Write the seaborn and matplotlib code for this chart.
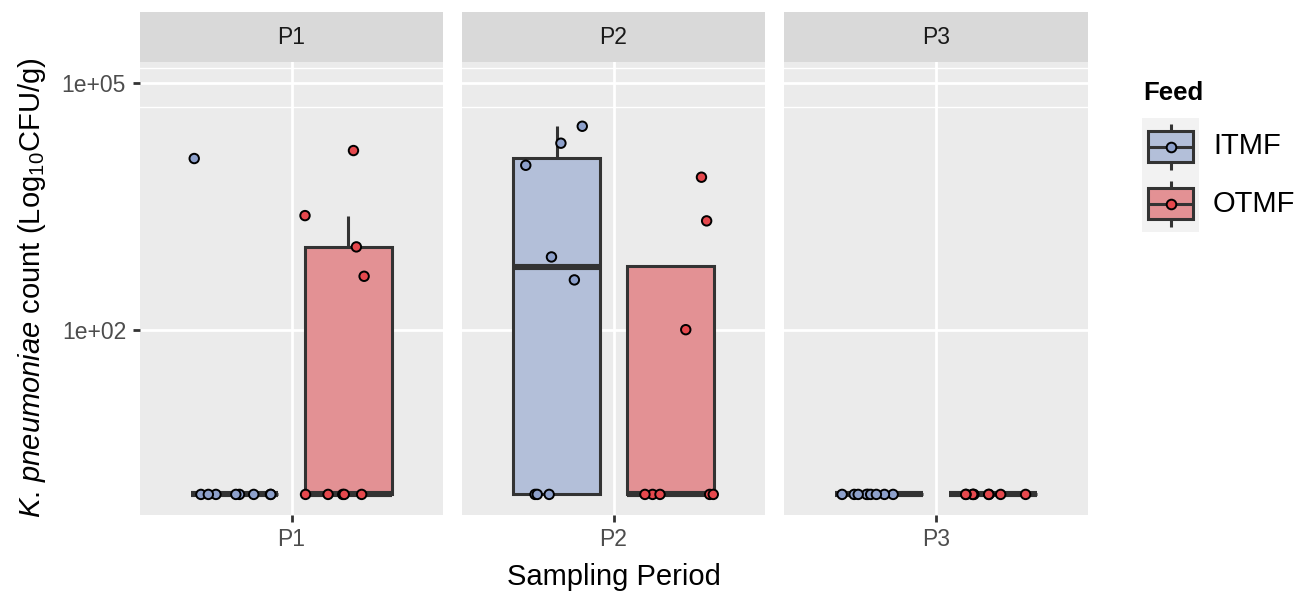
import numpy as np
import pandas as pd
import matplotlib
matplotlib.use("Agg")
import matplotlib.pyplot as plt
import seaborn as sns
from matplotlib.patches import Rectangle
from matplotlib.ticker import NullLocator

# ---------------- data (CFU/g; non-detects recorded as 1 = axis floor) ----------------
periods = ["P1", "P2", "P3"]
feeds = ["ITMF", "OTMF"]
p1_itmf = [1, 1, 1, 1, 1, 1, 1, 1, 11970]
p1_otmf = [1, 1, 1, 1, 1, 445, 1012, 2427, 14960]
p2_itmf = [1, 1, 1, 402, 764, 9910, 18370, 29500]
p2_otmf = [1, 1, 1, 1, 1, 100, 2094, 7100]
p3_itmf = [1, 1, 1, 1, 1, 1, 1, 1, 1]
p3_otmf = [1, 1, 1, 1, 1, 1, 1, 1, 1]
y_breaks = [1e2, 1e5]
y_break_labels = ["1e+02", "1e+05"]
y_minor_breaks = [50050, 149950]

groups = {("P1", "ITMF"): p1_itmf, ("P1", "OTMF"): p1_otmf,
          ("P2", "ITMF"): p2_itmf, ("P2", "OTMF"): p2_otmf,
          ("P3", "ITMF"): p3_itmf, ("P3", "OTMF"): p3_otmf}
rows = []
for (p, f), vals in groups.items():
    for v in vals:
        rows.append({"Period": p, "Feed": f, "Count": v})
df = pd.DataFrame(rows)

# ---------------- style ----------------
plt.rcParams["font.family"] = "Liberation Sans"
plt.rcParams["mathtext.fontset"] = "custom"
plt.rcParams["mathtext.rm"] = "Liberation Sans"
plt.rcParams["mathtext.it"] = "Liberation Sans:italic"

box_pal = {"ITMF": "#B3BFD9", "OTMF": "#E39194"}
dot_pal = {"ITMF": "#8DA0CB", "OTMF": "#E5484D"}
panel_bg = "#EBEBEB"
strip_bg = "#D9D9D9"
line_col = "#333333"

W, H = 1307, 594
fig = plt.figure(figsize=(W / 100, H / 100), dpi=100)
fig.patch.set_facecolor("white")

panel_x = [(140, 443), (462, 765), (784, 1088)]
top, bottom = 62, 515
np.random.seed(3)

for i, p in enumerate(periods):
    x0, x1 = panel_x[i]
    ax = fig.add_axes([x0 / W, 1 - bottom / H, (x1 - x0) / W, (bottom - top) / H])
    ax.set_facecolor(panel_bg)
    sub = df[df["Period"] == p]
    sns.boxplot(data=sub, x="Period", y="Count", hue="Feed", hue_order=feeds,
                palette=box_pal, saturation=1, width=0.8, gap=0.23,
                linecolor=line_col, linewidth=2.2, showfliers=False,
                medianprops=dict(linewidth=4.4),
                capprops=dict(linewidth=0), legend=False, ax=ax)
    sns.stripplot(data=sub, x="Period", y="Count", hue="Feed", hue_order=feeds,
                  palette=dot_pal, dodge=True, jitter=0.32, size=6.8,
                  edgecolor="black", linewidth=1.4, legend=False, zorder=3, ax=ax)
    ax.set_yscale("log")
    ax.set_ylim(10 ** -0.25, 10 ** 5.25)
    ax.set_xlim(-0.535, 0.535)
    ax.grid(False)
    for yb in y_breaks:
        ax.axhline(yb, color="white", lw=2.0, zorder=0.5)
    for yb in y_minor_breaks:
        ax.axhline(yb, color="white", lw=1.0, zorder=0.5)
    ax.axvline(0, color="white", lw=2.0, zorder=0.5)
    for s in ax.spines.values():
        s.set_visible(False)
    ax.set_xlabel("")
    ax.set_ylabel("")
    ax.set_xticks([0])
    ax.set_xticklabels([p])
    ax.yaxis.set_minor_locator(NullLocator())
    ax.tick_params(axis="x", length=5, width=2.0, color=line_col,
                   labelcolor="#4D4D4D", labelsize=16.5, pad=4)
    if i == 0:
        ax.set_yticks(y_breaks)
        ax.set_yticklabels(y_break_labels)
        ax.tick_params(axis="y", length=5, width=2.0, color=line_col,
                       labelcolor="#4D4D4D", labelsize=16.5, pad=5)
    else:
        ax.set_yticks(y_breaks)
        ax.tick_params(axis="y", length=0, labelleft=False)

    # strip
    sax = fig.add_axes([x0 / W, 1 - top / H, (x1 - x0) / W, (top - 12) / H])
    sax.set_facecolor(strip_bg)
    sax.set_xticks([])
    sax.set_yticks([])
    for s in sax.spines.values():
        s.set_visible(False)
    sax.text(0.5, 0.5, p, ha="center", va="center", fontsize=16.5, color="#1A1A1A",
             transform=sax.transAxes)

# axis titles
fig.text(614 / W, 1 - 577 / H, "Sampling Period", ha="center", va="center",
         fontsize=21, color="black")
fig.text(32 / W, 1 - 288 / H, r"$\mathit{K.\,pneumoniae}$ count (Log$_{10}$CFU/g)",
         ha="center", va="center", rotation=90, fontsize=21, color="black")

# legend (drawn in pixel space)
lax = fig.add_axes([0, 0, 1, 1])
lax.set_xlim(0, W)
lax.set_ylim(H, 0)
lax.axis("off")
lax.patch.set_visible(False)
lax.text(1143, 93, "Feed", ha="left", va="center", fontsize=18.5, fontweight="bold")
lax.add_patch(Rectangle((1142, 118), 57, 114, facecolor="#F2F2F2", edgecolor="none"))
for k, f in enumerate(feeds):
    cy = 146.5 + 57 * k
    lax.plot([1170.5, 1170.5], [cy - 23, cy + 23], color=line_col, lw=2.2,
             solid_capstyle="butt", zorder=2)
    lax.add_patch(Rectangle((1148, cy - 15.5), 45, 31, facecolor=box_pal[f],
                            edgecolor=line_col, lw=2.2, zorder=3))
    lax.plot([1148, 1193], [cy, cy], color=line_col, lw=2.2, zorder=4,
             solid_capstyle="butt")
    lax.scatter([1170.5], [cy], s=48, color=dot_pal[f], edgecolor="black",
                linewidth=1.4, zorder=5)
    lax.text(1213, cy, f, ha="left", va="center", fontsize=21, color="black")

fig.savefig("out.png", dpi=100)
